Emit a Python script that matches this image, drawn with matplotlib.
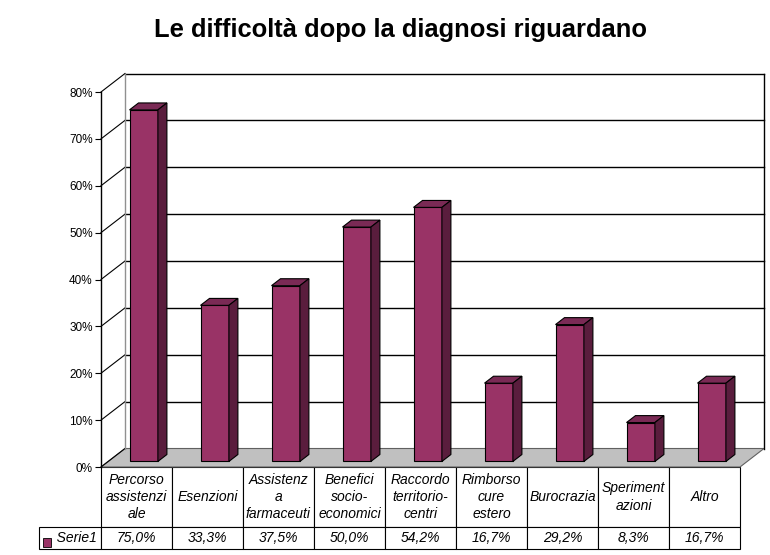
import matplotlib
matplotlib.use("Agg")
import matplotlib.pyplot as plt
from matplotlib.patches import Polygon, Rectangle

plt.rcParams['font.family'] = ['Liberation Sans', 'DejaVu Sans']

titolo = "Le difficoltà dopo la diagnosi riguardano"
categorie = ["Percorso\nassistenzi\nale", "Esenzioni", "Assistenz\na\nfarmaceuti",
             "Benefici\nsocio-\neconomici", "Raccordo\nterritorio-\ncentri",
             "Rimborso\ncure\nestero", "Burocrazia", "Speriment\nazioni", "Altro"]
valori = [75.0, 33.3, 37.5, 50.0, 54.2, 16.7, 29.2, 8.3, 16.7]
serie = "Serie1"
tick_y = [0, 10, 20, 30, 40, 50, 60, 70, 80]

col_fronte = "#993366"
col_lato = "#5a1d3d"
col_sopra = "#7a2a55"
col_pavimento = "#c0c0c0"

fig = plt.figure(figsize=(7.7, 5.55), dpi=100)
ax = fig.add_axes([101/770, 88/555, 639/770, 375/555])
n = len(categorie)
ax.set_xlim(-0.5, n - 0.5)
ax.set_ylim(0, 80)

# profondita' della "scatola" 3d, in unita' dati
dx = 24 / 71
dy = 18.5 / 4.6875

# pavimento
ax.add_patch(Polygon([(-0.5, 0), (n - 0.5, 0), (n - 0.5 + dx, dy), (-0.5 + dx, dy)],
                     closed=True, facecolor=col_pavimento, edgecolor="#606060",
                     lw=0.8, clip_on=False, zorder=1))

# griglia su parete di fondo e parete sinistra
for v in tick_y[1:]:
    ax.plot([-0.5 + dx, n - 0.5 + dx], [v + dy, v + dy], color="black", lw=1,
            clip_on=False, zorder=1)
for v in tick_y:
    ax.plot([-0.5, -0.5 + dx], [v, v + dy], color="black", lw=0.8,
            clip_on=False, zorder=1)
ax.plot([-0.5 + dx, -0.5 + dx], [dy, 80 + dy], color="#909090", lw=1,
        clip_on=False, zorder=1)
ax.plot([n - 0.5 + dx, n - 0.5 + dx], [dy, 80 + dy], color="black", lw=1,
        clip_on=False, zorder=1)

# barre 3d
larg = 0.4
f0, f1 = 0.3, 0.675
for i, v in enumerate(valori):
    x0 = i - larg / 2 + f0 * dx
    x1 = x0 + larg
    y0 = f0 * dy
    ox = (f1 - f0) * dx
    oy = (f1 - f0) * dy
    ax.add_patch(Rectangle((x0, y0), larg, v, facecolor=col_fronte,
                           edgecolor="black", lw=0.8, zorder=3, clip_on=False))
    ax.add_patch(Polygon([(x0, y0 + v), (x1, y0 + v), (x1 + ox, y0 + v + oy),
                          (x0 + ox, y0 + v + oy)], closed=True, facecolor=col_sopra,
                         edgecolor="black", lw=0.8, zorder=3, clip_on=False))
    ax.add_patch(Polygon([(x1, y0), (x1 + ox, y0 + oy), (x1 + ox, y0 + v + oy),
                          (x1, y0 + v)], closed=True, facecolor=col_lato,
                         edgecolor="black", lw=0.8, zorder=3, clip_on=False))

for s in ["top", "right", "bottom"]:
    ax.spines[s].set_visible(False)
ax.spines["left"].set_linewidth(1)
ax.set_xticks([])
ax.set_yticks(tick_y)
ax.set_yticklabels([f"{v}%" for v in tick_y], fontsize=8.5)
ax.tick_params(axis="y", length=4, width=0.8, pad=2)
ax.patch.set_visible(False)

# tabella dati
testi = [f"{v:.1f}%".replace(".", ",") for v in valori]
tbl = ax.table(cellText=[testi], rowLabels=["   " + serie], colLabels=categorie,
               colWidths=[1 / n] * n, cellLoc="center", rowLoc="left",
               bbox=[0, -82/375, 1, 82/375])
tbl.auto_set_font_size(False)
tbl.set_fontsize(10)
for (r, c), cell in tbl.get_celld().items():
    cell.set_height(60 if r == 0 else 22)
    cell.set_linewidth(0.8)
    cell.get_text().set_fontstyle("italic")
    cell.get_text().set_linespacing(1.3)

ax.add_patch(Rectangle((-58/639, -80/375), 8/639, 9/375, transform=ax.transAxes,
                       facecolor=col_fronte, edgecolor="black", lw=0.6,
                       clip_on=False, zorder=5))

fig.text(0.52, 1 - 30/555, titolo, ha="center", va="center", fontsize=18.4,
         fontweight="bold")

fig.savefig("out.png", dpi=100)
